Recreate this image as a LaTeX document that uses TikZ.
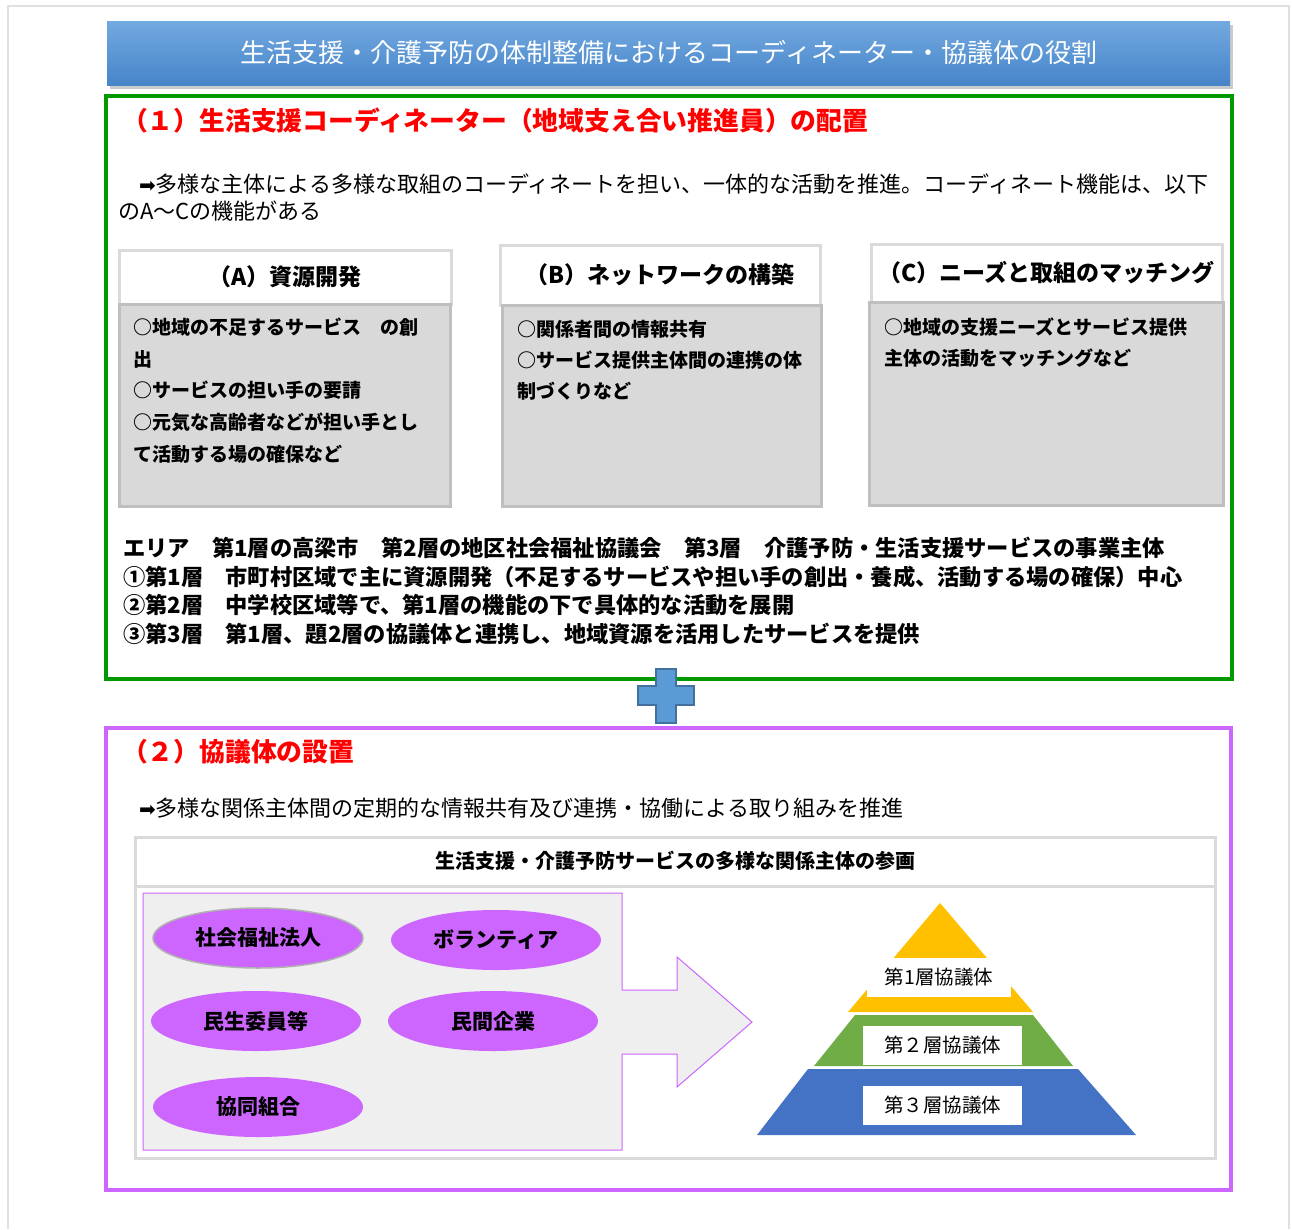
\documentclass[tikz,border=0pt]{standalone}
\usepackage{fontspec}
\setmainfont{Noto Sans CJK JP}
\newfontfamily\symf{DejaVu Sans}
\usetikzlibrary{shapes.geometric}
\definecolor{titletop}{HTML}{72A9E0}
\definecolor{titlebot}{HTML}{4785C9}
\definecolor{secgreen}{HTML}{009A00}
\definecolor{secpurple}{HTML}{CC66FF}
\definecolor{boxgray}{HTML}{D9D9D9}
\definecolor{boxborder}{HTML}{BFBFBF}
\definecolor{hdrborder}{HTML}{DADADA}
\definecolor{plusfill}{HTML}{5B9BD5}
\definecolor{plusdraw}{HTML}{41719C}
\definecolor{ellfill}{HTML}{CC66FF}
\definecolor{arrowfill}{HTML}{EFEFEF}
\definecolor{pyryellow}{HTML}{FFC000}
\definecolor{pyrgreen}{HTML}{70AD47}
\definecolor{pyrblue}{HTML}{4472C4}
\tikzset{
  hdrbox/.style={draw=hdrborder, line width=3pt, fill=white, font=\fontsize{23}{28}\selectfont\bfseries},
  bodybox/.style={draw=boxborder, line width=3pt, fill=boxgray},
  bodyline/.style={anchor=west, font=\fontsize{19}{24}\selectfont\bfseries},
  bottomline/.style={anchor=west, font=\fontsize{22.25}{27}\selectfont\bfseries},
  heading/.style={anchor=west, text=red, font=\fontsize{25.8}{30}\selectfont\bfseries},
  descline/.style={anchor=west, font=\fontsize{22}{26}\selectfont},
  member/.style={ellipse, fill=ellfill, minimum width=210pt, minimum height=60pt, font=\fontsize{21}{25}\selectfont\bfseries},
  pyrlabel/.style={fill=white, font=\fontsize{19.5}{23}\selectfont}
}
\newcommand{\rarr}{{\symf\fontsize{20}{24}\selectfont ➡}}
\begin{document}
\begin{tikzpicture}[x=1pt,y=-1pt, every node/.style={inner sep=0pt, outer sep=0pt}]
\useasboundingbox (0,0) rectangle (1292,1229);
\fill[white] (0,0) rectangle (1292,1229);
\draw[black!12, line width=1.5pt] (8,1229) -- (8,6) -- (1289,6) -- (1289,1229);

% title banner
\fill[black!40, opacity=0.5] (110,25) rectangle (1233,89);
\shade[top color=titletop, bottom color=titlebot] (107,21) rectangle (1230,85);
\node[text=white, font=\fontsize{26}{30}\selectfont] (title) at (669,53) {生活支援・介護予防の体制整備におけるコーディネーター・協議体の役割};

% section 1
\draw[secgreen, line width=3.5pt] (106,96) rectangle (1232,679);
\node[heading] (h1) at (122,120) {（１）生活支援コーディネーター（地域支え合い推進員）の配置};
\node[descline] (d1a) at (139,184) {\rarr 多様な主体による多様な取組のコーディネートを担い、一体的な活動を推進。コーディネート機能は、以下};
\node[descline] (d1b) at (118,211) {のA～Cの機能がある};

% box A
\node[hdrbox, minimum width=332pt, minimum height=54pt] (ahdr) at (285,277) {（A）資源開発};
\node[bodybox, minimum width=331pt, minimum height=202pt] (abody) at (284.5,405) {};
\node[bodyline] (a1) at (133,327) {○地域の不足するサービス　の創};
\node[bodyline] (a2) at (133,359) {出};
\node[bodyline] (a3) at (133,390) {○サービスの担い手の要請};
\node[bodyline] (a4) at (133,422) {○元気な高齢者などが担い手とし};
\node[bodyline] (a5) at (133,454) {て活動する場の確保など};

% box B
\node[hdrbox, minimum width=320pt, minimum height=60pt] (bhdr) at (660,275) {（B）ネットワークの構築};
\node[bodybox, minimum width=319pt, minimum height=201pt] (bbody) at (661.5,405.5) {};
\node[bodyline] (b1) at (517,329) {○関係者間の情報共有};
\node[bodyline] (b2) at (517,360) {○サービス提供主体間の連携の体};
\node[bodyline] (b3) at (517,391) {制づくりなど};

% box C
\node[hdrbox, minimum width=351pt, minimum height=58pt] (chdr) at (1046.5,273) {（C）ニーズと取組のマッチング};
\node[bodybox, minimum width=354pt, minimum height=203pt] (cbody) at (1046,403.5) {};
\node[bodyline] (c1) at (884,327) {○地域の支援ニーズとサービス提供};
\node[bodyline] (c2) at (884,358) {主体の活動をマッチングなど};

% bottom lines
\node[bottomline] (l1) at (123,548) {エリア　第1層の高梁市　第2層の地区社会福祉協議会　第3層　介護予防・生活支援サービスの事業主体};
\node[bottomline] (l2) at (123,577) {①第1層　市町村区域で主に資源開発（不足するサービスや担い手の創出・養成、活動する場の確保）中心};
\node[bottomline] (l3) at (123,605) {②第2層　中学校区域等で、第1層の機能の下で具体的な活動を展開};
\node[bottomline] (l4) at (123,634) {③第3層　第1層、題2層の協議体と連携し、地域資源を活用したサービスを提供};

% section 2
\draw[secpurple, line width=3.5pt] (106,728) rectangle (1231,1190);

% plus sign
\draw[fill=plusfill, draw=plusdraw, line width=1.2pt] (656,669) -- (676,669) -- (676,686) -- (694,686) -- (694,705) -- (676,705) -- (676,723) -- (656,723) -- (656,705) -- (638,705) -- (638,686) -- (656,686) -- cycle;

\node[heading] (h2) at (122,752) {（２）協議体の設置};
\node[descline] (d2) at (139,808) {\rarr 多様な関係主体間の定期的な情報共有及び連携・協働による取り組みを推進};

% participation frame
\draw[hdrborder, line width=3pt, fill=white] (135,837) rectangle (1215,1158);
\draw[hdrborder, line width=3pt] (135,886) -- (1215,886);
\node[font=\fontsize{20}{24}\selectfont\bfseries] (ptitle) at (675,861) {生活支援・介護予防サービスの多様な関係主体の参画};

% big arrow block
\draw[draw=secpurple, fill=arrowfill, line width=1pt] (143,893) -- (622,893) -- (622,990) -- (677,990) -- (677,957) -- (752,1022) -- (677,1087) -- (677,1054) -- (622,1054) -- (622,1150) -- (143,1150) -- cycle;

\node[member, draw=black!30, line width=1.5pt] (m1) at (258,938) {社会福祉法人};
\node[member] (m2) at (496,940) {ボランティア};
\node[member] (m3) at (256,1021) {民生委員等};
\node[member] (m4) at (493,1021) {民間企業};
\node[member] (m5) at (258,1107) {協同組合};

% pyramid
\fill[pyryellow] (940,903) -- (1033,1012) -- (848,1012) -- cycle;
\fill[pyrgreen] (855,1015) -- (1033,1015) -- (1073,1066) -- (814,1066) -- cycle;
\fill[pyrblue] (808,1069) -- (1078,1069) -- (1136,1135) -- (757,1135) -- cycle;
\node[pyrlabel, minimum width=144pt, minimum height=39pt] (p1) at (939,977) {第1層協議体};
\node[pyrlabel, minimum width=159pt, minimum height=39pt] (p2) at (942.5,1045.5) {第２層協議体};
\node[pyrlabel, minimum width=159pt, minimum height=39pt] (p3) at (942.5,1105.5) {第３層協議体};
\end{tikzpicture}
\end{document}
